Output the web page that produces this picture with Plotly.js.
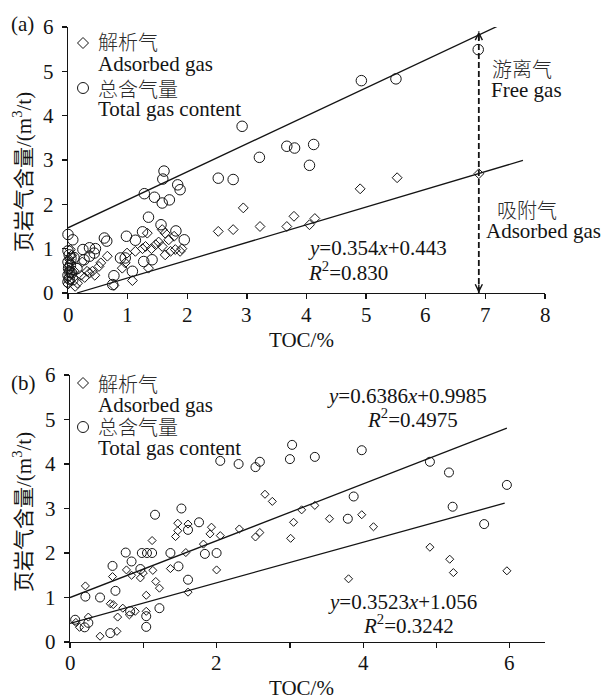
<!DOCTYPE html>
<html>
<head>
<meta charset="utf-8">
<script src="https://cdn.plot.ly/plotly-3.0.1.min.js"></script>
<style>
  html, body { margin: 0; padding: 0; background: #ffffff; }
  #chart { width: 602px; height: 699px; }
</style>
</head>
<body>
<div id="chart"></div>
<script>
// ---------- Panel (a): gas content vs TOC ----------
const tocA_adsorbed = [0.00, 0.03, 0.01, 0.05, 0.02, 0.00, 0.04, 0.02, 0.06, 0.04, 0.10, 0.12,
  0.16, 0.22, 0.24, 0.28, 0.32, 0.36, 0.41, 0.45, 0.52, 0.55, 0.66, 0.77, 0.91, 0.96, 0.99,
  1.08, 1.13, 1.25, 1.30, 1.33, 1.35, 1.40, 1.47, 1.52, 1.58, 1.58, 1.63, 1.63, 1.69, 1.72,
  1.78, 1.80, 1.88, 1.91, 2.52, 2.77, 2.94, 3.22, 3.67, 3.79, 4.05, 4.14, 4.90, 5.52, 6.89];
const gasA_adsorbed = [0.20, 0.28, 0.36, 0.44, 0.52, 0.60, 0.68, 0.76, 0.85, 0.98, 0.50, 0.15,
  0.22, 0.40, 0.70, 0.35, 0.49, 0.45, 0.49, 0.40, 0.60, 0.68, 0.83, 0.17, 0.56, 0.68, 0.90,
  0.28, 0.94, 1.00, 1.05, 1.35, 0.56, 1.00, 1.09, 1.15, 1.43, 1.05, 1.35, 0.86, 1.20, 0.94,
  1.28, 0.98, 0.94, 1.00, 1.39, 1.43, 1.92, 1.50, 1.50, 1.73, 1.54, 1.68, 2.35, 2.60, 2.69];

const tocA_total = [0.00, 0.08, 0.00, 0.02, 0.00, 0.03, 0.01, 0.04, 0.00, 0.05, 0.02, 0.00,
  0.06, 0.08, 0.10, 0.25, 0.36, 0.44, 0.36, 0.27, 0.46, 0.15, 0.61, 0.65, 0.98, 1.13, 0.77,
  0.75, 0.88, 0.96, 1.08, 1.25, 1.28, 1.35, 1.27, 1.41, 1.45, 1.58, 1.59, 1.61, 1.70, 1.56,
  1.84, 1.88, 1.95, 1.81, 2.52, 2.77, 2.92, 3.21, 3.67, 3.80, 4.12, 4.05, 4.92, 5.50, 6.88];
const gasA_total = [1.32, 1.20, 0.25, 0.32, 0.40, 0.47, 0.55, 0.62, 0.70, 0.78, 0.86, 0.95,
  0.45, 0.30, 0.80, 0.98, 1.02, 0.90, 0.83, 0.75, 1.00, 0.55, 1.24, 1.17, 1.28, 1.19, 0.39,
  0.19, 0.79, 0.79, 0.49, 1.38, 2.24, 1.71, 0.71, 0.75, 2.16, 2.03, 2.57, 2.75, 2.10, 1.54,
  2.44, 2.33, 1.20, 1.40, 2.59, 2.56, 3.76, 3.06, 3.31, 3.27, 3.35, 2.88, 4.79, 4.83, 5.49];

// trend lines of panel (a), given by their end points
const fitA_total_x = [0.00, 7.65];
const fitA_total_y = [1.47, 6.30];
const fitA_ads_x = [0.15, 7.63];
const fitA_ads_y = [0.00, 2.99];
// dashed free-gas / adsorbed-gas split at the highest-TOC sample
const splitA_x = [6.89, 6.89];
const splitA_y = [0.00, 5.90];

// ---------- Panel (b): gas content vs TOC ----------
const tocB_adsorbed = [0.08, 0.13, 0.21, 0.25, 0.41, 0.55, 0.58, 0.59, 0.64, 0.65, 0.72, 0.77,
  0.81, 0.84, 0.89, 0.96, 1.00, 1.04, 1.04, 1.12, 1.13, 1.17, 1.22, 1.37, 1.44, 1.47, 1.47,
  1.58, 1.61, 1.61, 1.82, 1.91, 1.93, 2.00, 2.05, 2.31, 2.53, 2.59, 2.66, 2.76, 3.01, 3.05,
  3.16, 3.34, 3.54, 3.80, 3.98, 4.14, 4.91, 5.18, 5.23, 5.96];
const gasB_adsorbed = [0.44, 0.33, 1.26, 0.56, 0.13, 0.86, 1.47, 0.84, 0.24, 0.56, 0.76, 1.62,
  0.61, 1.50, 0.69, 1.44, 1.55, 1.05, 0.69, 2.28, 1.61, 1.36, 1.21, 1.65, 2.37, 2.67, 2.50,
  2.01, 2.65, 1.12, 2.20, 2.43, 2.58, 1.62, 2.39, 2.54, 2.36, 2.46, 3.32, 3.16, 2.33, 2.69,
  2.97, 3.07, 2.77, 1.42, 2.86, 2.59, 2.13, 1.86, 1.56, 1.60];

const tocB_total = [0.07, 0.21, 0.20, 0.25, 0.41, 0.55, 0.58, 0.62, 0.76, 0.84, 0.82, 0.96,
  0.98, 1.05, 1.12, 1.04, 1.04, 1.16, 1.22, 1.37, 1.48, 1.52, 1.61, 1.61, 1.76, 1.84, 2.00,
  2.05, 2.30, 2.53, 2.59, 3.00, 3.03, 3.34, 3.98, 3.87, 3.79, 4.91, 5.17, 5.22, 5.65, 5.96];
const gasB_total = [0.50, 1.02, 0.33, 0.43, 1.00, 0.20, 1.71, 1.15, 2.01, 1.81, 0.69, 1.64,
  2.00, 2.00, 2.00, 0.58, 0.34, 2.86, 0.76, 2.00, 1.70, 3.00, 2.52, 1.40, 2.69, 1.98, 2.00,
  4.07, 4.00, 3.93, 4.05, 4.11, 4.43, 4.16, 4.31, 3.27, 2.77, 4.05, 3.81, 3.04, 2.65, 3.53];

// upper trend line follows its printed equation y = 0.6386x + 0.9985
const fitB_total_coef = [0.6386, 0.9985];
const fitB_total_x = [0.00, 5.96];
// lower trend line, given by its end points
const fitB_ads_x = [0.00, 5.93];
const fitB_ads_y = [0.42, 3.12];

const xTicksA = [0, 1, 2, 3, 4, 5, 6, 7, 8];
const xTickTextA = ['0', '1', '2', '3', '4', '5', '6', '7', '8'];
const xTicksB = [0, 1, 2, 3, 4, 5, 6];
const xTickTextB = ['0', '', '2', '', '4', '', '6'];
const yTicks = [0, 1, 2, 3, 4, 5, 6];

// ---------- styling ----------
const INK = '#141414';
const SERIF = 'Liberation Serif, Times New Roman, Noto Sans CJK SC, serif';
const CJK = 'Noto Sans CJK SC, Liberation Serif, sans-serif';
const W = 602, H = 699;
const px = v => v / W;
const py = v => 1 - v / H;

function scatter(x, y, symbol, size, xa, ya) {
  return {
    type: 'scatter', mode: 'markers', x: x, y: y, xaxis: xa, yaxis: ya,
    cliponaxis: false, showlegend: false, hoverinfo: 'skip',
    marker: { symbol: symbol, size: size, color: INK, line: { color: INK, width: 1 } }
  };
}
function line(x, y, xa, ya, extra) {
  return Object.assign({
    type: 'scatter', mode: 'lines', x: x, y: y, xaxis: xa, yaxis: ya,
    cliponaxis: false, showlegend: false, hoverinfo: 'skip',
    line: { color: INK, width: 1.3 }
  }, extra || {});
}

const fitB_total_y = fitB_total_x.map(x => fitB_total_coef[0] * x + fitB_total_coef[1]);

const traces = [
  line(fitA_total_x, fitA_total_y, 'x', 'y'),
  line(fitA_ads_x, fitA_ads_y, 'x', 'y'),
  line(splitA_x, splitA_y, 'x', 'y', { line: { color: INK, width: 1.8, dash: '6px,3px' } }),
  scatter(tocA_adsorbed, gasA_adsorbed, 'diamond-open', 7.6, 'x', 'y'),
  scatter(tocA_total, gasA_total, 'circle-open', 10.5, 'x', 'y'),
  line(fitB_total_x, fitB_total_y, 'x2', 'y2'),
  line(fitB_ads_x, fitB_ads_y, 'x2', 'y2'),
  scatter(tocB_adsorbed, gasB_adsorbed, 'diamond-open', 6.2, 'x2', 'y2'),
  scatter(tocB_total, gasB_total, 'circle-open', 9, 'x2', 'y2')
];

function axisStyle(extra) {
  return Object.assign({
    showline: true, linecolor: INK, linewidth: 1.4, mirror: false,
    showgrid: false, zeroline: false, ticks: 'outside', ticklen: 5,
    tickwidth: 1.3, tickcolor: INK, ticklabelstandoff: 4,
    tickfont: { family: SERIF, size: 21, color: INK }, fixedrange: true
  }, extra);
}

function ann(text, x, y, opts) {
  return Object.assign({
    text: text, xref: 'paper', yref: 'paper', x: px(x), y: py(y),
    xanchor: 'left', yanchor: 'middle', showarrow: false,
    font: { family: SERIF, size: 21, color: INK }
  }, opts || {});
}
function cjk(text, x, y, opts) {
  return ann(text, x, y, Object.assign({ font: { family: CJK, size: 20, color: '#2a2a2a', weight: 300 } }, opts || {}));
}

const yTitle = '<span style="font-family:Noto Sans CJK SC">页岩气含量</span>/(m<sup>3</sup>/t)';

// x tick labels placed under each tick through the axis scale
function xTickLabels(vals, texts, xa, yPix) {
  return vals.map((v, i) => ({
    text: texts[i], xref: xa, yref: 'paper', x: v, y: py(yPix),
    xanchor: 'center', yanchor: 'middle', showarrow: false,
    font: { family: SERIF, size: 21, color: INK }
  })).filter(a => a.text !== '');
}

const annotations = [
  // panel tags
  ann('(a)', 9, 24),
  ann('(b)', 9, 383),
  // y-axis titles
  ann(yTitle, 22, 172, { xanchor: 'center', textangle: -90 }),
  ann(yTitle, 22, 512, { xanchor: 'center', textangle: -90 }),
  // x-axis titles
  ann('TOC/%', 301, 340, { xanchor: 'center' }),
  ann('TOC/%', 301, 688, { xanchor: 'center' }),
  // legend text (a)
  cjk('解析气', 96, 42),
  ann('Adsorbed gas', 96, 64),
  cjk('总含气量', 96, 88),
  ann('Total gas content', 96, 109),
  // legend text (b)
  cjk('解析气', 96, 383),
  ann('Adsorbed gas', 96, 405),
  cjk('总含气量', 96, 427),
  ann('Total gas content', 96, 448),
  // panel (a) labels
  cjk('游离气', 522, 68, { xanchor: 'center' }),
  ann('Free gas', 526, 90, { xanchor: 'center' }),
  cjk('吸附气', 527, 209, { xanchor: 'center' }),
  ann('Adsorbed gas', 543, 231, { xanchor: 'center' }),
  ann('<i>y</i>=0.354<i>x</i>+0.443', 306, 248),
  ann('<i>R</i><sup>2</sup>=0.830', 306, 271),
  // panel (b) equations
  ann('<i>y</i>=0.6386<i>x</i>+0.9985', 407, 396, { xanchor: 'center' }),
  ann('<i>R</i><sup>2</sup>=0.4975', 412, 418, { xanchor: 'center' }),
  ann('<i>y</i>=0.3523<i>x</i>+1.056', 402, 602, { xanchor: 'center' }),
  ann('<i>R</i><sup>2</sup>=0.3242', 408, 624, { xanchor: 'center' }),
  // arrowheads on the dashed split line
  { xref: 'x', yref: 'y', x: splitA_x[1], y: splitA_y[1], ax: 0, ay: 10, axref: 'pixel', ayref: 'pixel',
    text: '', showarrow: true, arrowhead: 5, arrowsize: 1, arrowwidth: 1.4, arrowcolor: INK },
  { xref: 'x', yref: 'y', x: splitA_x[0], y: splitA_y[0], ax: 0, ay: -10, axref: 'pixel', ayref: 'pixel',
    text: '', showarrow: true, arrowhead: 5, arrowsize: 1, arrowwidth: 1.4, arrowcolor: INK }
].concat(
  xTickLabels(xTicksA, xTickTextA, 'x', 315),
  xTickLabels(xTicksB, xTickTextB, 'x2', 663)
);

// legend keys drawn as pixel-sized shapes
function keyCircle(x, y, r) {
  return { type: 'circle', xref: 'paper', yref: 'paper', xsizemode: 'pixel', ysizemode: 'pixel',
    xanchor: px(x), yanchor: py(y), x0: -r, x1: r, y0: -r, y1: r,
    line: { color: INK, width: 1 }, fillcolor: 'rgba(0,0,0,0)' };
}
function keyDiamond(x, y, r) {
  return { type: 'path', xref: 'paper', yref: 'paper', xsizemode: 'pixel', ysizemode: 'pixel',
    xanchor: px(x), yanchor: py(y),
    path: `M0,${r} L${r},0 L0,${-r} L${-r},0 Z`,
    line: { color: INK, width: 1 }, fillcolor: 'rgba(0,0,0,0)' };
}

const shapes = [
  keyDiamond(83, 43, 5.5), keyCircle(83, 88, 5.5),
  keyDiamond(83, 383, 5.5), keyCircle(83, 427, 5.5)
];

const layout = {
  width: W, height: H,
  margin: { l: 0, r: 0, t: 0, b: 0 },
  paper_bgcolor: '#ffffff', plot_bgcolor: '#ffffff',
  showlegend: false,
  xaxis: axisStyle({ domain: [px(68), px(545)], range: [0, 8], tickvals: xTicksA, showticklabels: false, anchor: 'y' }),
  yaxis: axisStyle({ domain: [py(293), py(27)], range: [0, 6], tickvals: yTicks, anchor: 'x' }),
  xaxis2: axisStyle({ domain: [px(70), px(545)], range: [0, 6.48], tickvals: xTicksB, showticklabels: false, anchor: 'y2' }),
  yaxis2: axisStyle({ domain: [py(642), py(375)], range: [0, 6], tickvals: yTicks, anchor: 'x2' }),
  annotations: annotations,
  shapes: shapes
};

Plotly.newPlot('chart', traces, layout, { staticPlot: true, displayModeBar: false });
</script>
</body>
</html>
